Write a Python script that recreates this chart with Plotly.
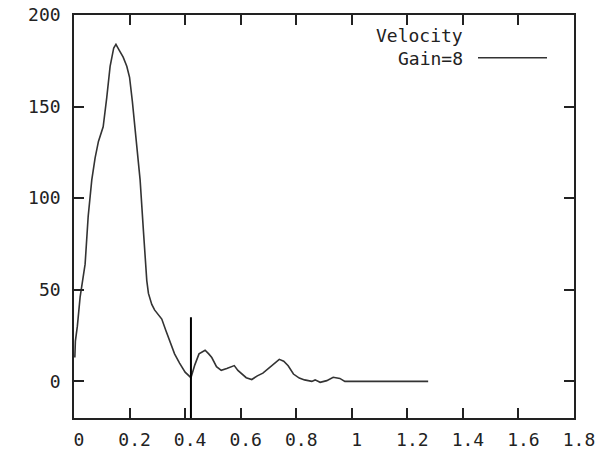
import plotly.graph_objects as go

# Data
time_s = [0.003, 0.005, 0.012, 0.022, 0.04, 0.051, 0.064, 0.076, 0.088, 0.105,
          0.118, 0.13, 0.143, 0.151, 0.162, 0.177, 0.19, 0.2, 0.21, 0.22,
          0.238, 0.25, 0.262, 0.268, 0.28, 0.29, 0.316, 0.33, 0.346, 0.362,
          0.38, 0.40, 0.421, 0.435, 0.45, 0.472, 0.485, 0.496, 0.513, 0.53,
          0.55, 0.577, 0.59, 0.604, 0.62, 0.64, 0.66, 0.68, 0.70, 0.72,
          0.739, 0.755, 0.771, 0.79, 0.811, 0.83, 0.856, 0.868, 0.886, 0.91,
          0.933, 0.957, 0.975, 1.0, 1.1, 1.2, 1.275]
velocity = [13, 22, 30, 46, 64, 90, 110, 122, 131, 139,
            155, 172, 182, 184, 181, 177, 172, 166, 153, 137,
            110, 82, 55, 48, 42, 39, 34, 28, 21, 15,
            10, 5, 2, 9, 15, 17, 15, 13, 8, 6,
            7, 8.6, 6, 4, 2, 1, 3, 4.5, 7, 10,
            12, 11, 8.5, 4, 1.8, 0.8, 0, 0.8, -0.5, 0.4,
            2.2, 1.6, 0, 0, 0, 0, 0]

marker_x = [0.421, 0.421]
marker_y = [-22, 35]

x_tickvals = [0, 0.2, 0.4, 0.6, 0.8, 1.0, 1.2, 1.4, 1.6, 1.8]
x_ticktext = ["0", "0.2", "0.4", "0.6", "0.8", "1", "1.2", "1.4", "1.6", "1.8"]
y_tickvals = [0, 50, 100, 150, 200]
y_ticktext = ["0", "50", "100", "150", "200"]

legend_title = "Velocity"
series_name = "Gain=8"

FONT = "DejaVu Sans Mono"
INK = "#222222"
FS = 18

fig = go.Figure()
fig.add_trace(go.Scatter(x=time_s, y=velocity, mode="lines", name=series_name,
                         line=dict(color="#333333", width=1.6), showlegend=False))
fig.add_trace(go.Scatter(x=marker_x, y=marker_y, mode="lines", showlegend=False,
                         line=dict(color="#000000", width=2)))

axis_common = dict(showline=True, linecolor=INK, linewidth=1.6, mirror="ticks",
                   ticks="inside", ticklen=10, tickwidth=1.5, tickcolor=INK,
                   showgrid=False, zeroline=False, automargin=False,
                   tickfont=dict(family=FONT, size=FS, color=INK))

fig.update_xaxes(range=[0, 1.8], tickvals=x_tickvals, ticktext=x_ticktext,
                 ticklabelshift=5, ticklabelstandoff=5, **axis_common)
fig.update_yaxes(range=[-20, 200], tickvals=y_tickvals, ticktext=y_ticktext,
                 ticklabelstandoff=8, **axis_common)

# Legend drawn gnuplot-style: right-aligned text, line sample to the right
fig.add_annotation(xref="paper", yref="paper", x=0.782, y=0.950, xanchor="right",
                   yanchor="middle", text=legend_title, showarrow=False,
                   font=dict(family=FONT, size=FS, color=INK))
fig.add_annotation(xref="paper", yref="paper", x=0.782, y=0.893, xanchor="right",
                   yanchor="middle", text=series_name, showarrow=False,
                   font=dict(family=FONT, size=FS, color=INK))
fig.add_shape(type="line", xref="paper", yref="paper", x0=0.808, x1=0.946,
              y0=0.894, y1=0.894, line=dict(color="#333333", width=1.6))

fig.update_layout(width=603, height=454, margin=dict(l=74, r=29, t=15, b=36),
                  paper_bgcolor="white", plot_bgcolor="white")

# remove the browser's default 8px body margin so the figure fills the window
fig.write_html("out.html", config={"displayModeBar": False},
               post_script="document.body.style.margin='0';")
